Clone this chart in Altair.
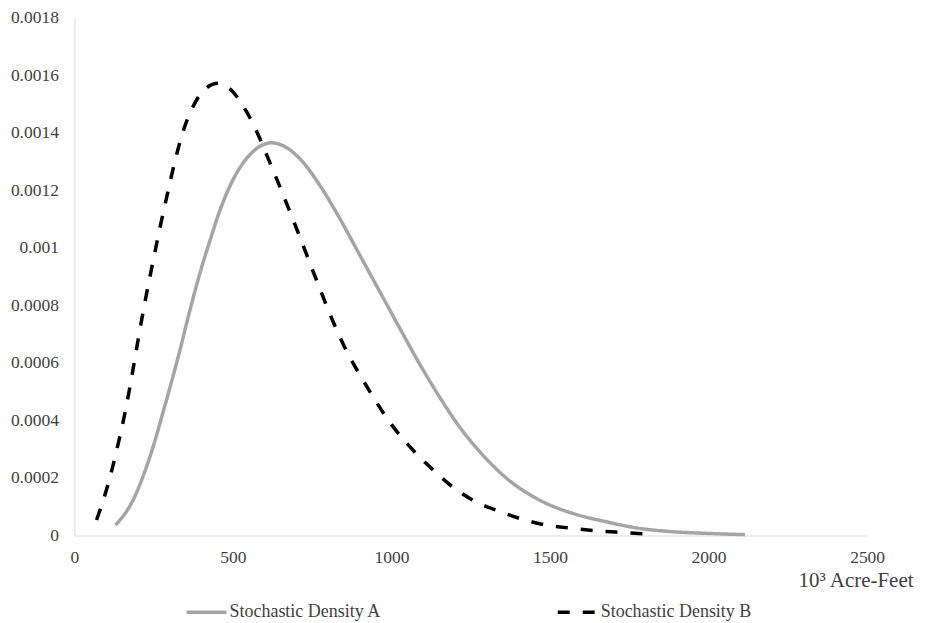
import altair as alt
import pandas as pd

# Stochastic Density A (gray solid)
a_x = [130, 185, 238, 290, 332, 364, 395, 427, 458, 490, 521, 553, 584, 621, 658, 710, 773,
       836, 899, 962, 1025, 1089, 1152, 1215, 1278, 1362, 1467, 1572, 1677, 1782, 1887, 1992, 2115]
a_y = [0.0000363, 0.000123, 0.000273, 0.000469, 0.00064, 0.000781, 0.000908, 0.001023,
       0.001127, 0.001213, 0.001277, 0.001323, 0.001352, 0.001365, 0.001355, 0.001311,
       0.001219, 0.001104, 0.000977, 0.00085, 0.000723, 0.000596, 0.000481, 0.000377,
       0.000292, 0.0002, 0.000123, 0.0000768, 0.0000478, 0.0000249, 0.0000132, 0.0000076,
       0.000003]

# Stochastic Density B (black dashed)
b_x = [70, 101, 122, 143, 159, 175, 196, 222, 238, 254, 269, 290, 317, 343, 374, 406, 453,
       500, 543, 579, 611, 637, 689, 732, 773, 815, 858, 899, 941, 994, 1036, 1067, 1110,
       1193, 1256, 1330, 1404, 1488, 1572, 1645, 1740, 1813]
b_y = [0.000054, 0.000158, 0.000244, 0.000342, 0.000423, 0.000515, 0.000648, 0.000808,
       0.000898, 0.000985, 0.001065, 0.00117, 0.0013, 0.001405, 0.00149, 0.001545, 0.001572,
       0.001542, 0.001473, 0.001395, 0.001311, 0.001242, 0.0011, 0.000978, 0.000861,
       0.000746, 0.000642, 0.000561, 0.000484, 0.000395, 0.000336, 0.000298, 0.00025,
       0.000169, 0.000123, 0.0000883, 0.0000595, 0.0000363, 0.0000249, 0.0000166,
       0.0000097, 0.0000042]

series_names = ["Stochastic Density A", "Stochastic Density B"]
x_ticks = [0, 500, 1000, 1500, 2000, 2500]
y_ticks = [0, 0.0002, 0.0004, 0.0006, 0.0008, 0.001, 0.0012, 0.0014, 0.0016, 0.0018]

df = pd.concat([
    pd.DataFrame({"x": a_x, "y": a_y, "series": series_names[0], "order": range(len(a_x))}),
    pd.DataFrame({"x": b_x, "y": b_y, "series": series_names[1], "order": range(len(b_x))}),
])

FONT = "Liberation Serif"
TXT = "#3f3f3f"


def make_legend():
    return alt.Legend(title=None, orient="none", legendX=110.5, legendY=574,
                      direction="horizontal", columns=2, columnPadding=170,
                      symbolType="stroke", symbolSize=1600, symbolStrokeWidth=3.5,
                      labelFont=FONT, labelFontSize=18, labelColor=TXT,
                      labelOffset=1, padding=0)


chart = alt.Chart(df).mark_line(strokeWidth=3.5, interpolate="monotone", strokeCap="butt").encode(
    x=alt.X("x:Q",
            scale=alt.Scale(domain=[0, 2500], nice=False),
            axis=alt.Axis(values=x_ticks, format="d", title="10³ Acre-Feet", grid=False,
                          ticks=False, domainColor="#d9d9d9", labelFont=FONT,
                          labelFontSize=17.5, labelColor=TXT, labelPadding=13,
                          labelFlush=False, titleFont=FONT, titleFontSize=21,
                          titleFontWeight="normal", titleColor=TXT, titleAlign="right",
                          titleBaseline="alphabetic", titleX=840.5, titleY=51,
                          titleAnchor="end")),
    y=alt.Y("y:Q",
            scale=alt.Scale(domain=[0, 0.0018], nice=False),
            axis=alt.Axis(values=y_ticks, title=None, grid=False, ticks=False,
                          domainColor="#d9d9d9", labelFont=FONT, labelFontSize=17.5,
                          labelColor=TXT, labelPadding=16, labelFlush=False,
                          labelExpr="datum.value == 0 ? '0' : format(datum.value, '~g')")),
    color=alt.Color("series:N",
                    scale=alt.Scale(domain=series_names, range=["#a5a5a5", "#000000"]),
                    legend=make_legend()),
    strokeDash=alt.StrokeDash("series:N",
                              scale=alt.Scale(domain=series_names, range=[[1, 0], [12, 13]]),
                              legend=make_legend()),
    order="order:Q",
).properties(
    width=794.5, height=519,
    autosize=alt.AutoSizeParams(type="none"),
    padding={"left": 66.5, "top": 9, "right": 50, "bottom": 91},
).configure(background="white").configure_view(stroke=None)

chart.save("out.html", embed_options={"renderer": "svg", "actions": False})
